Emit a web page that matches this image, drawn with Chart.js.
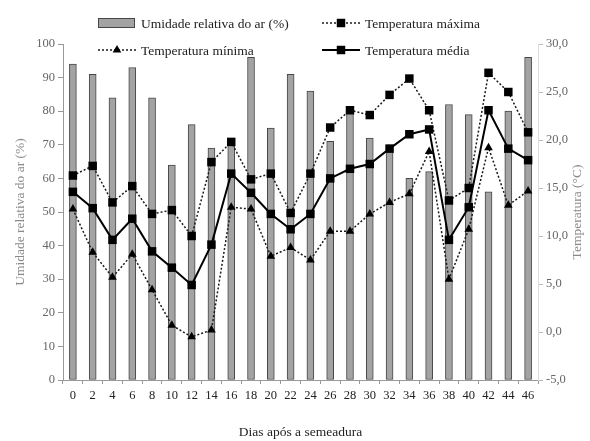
<!DOCTYPE html>
<html>
<head>
<meta charset="utf-8">
<script src="https://cdn.jsdelivr.net/npm/chart.js@4.4.1/dist/chart.umd.min.js"></script>
<style>
    html, body { margin: 0; padding: 0; background: #fff; }
    canvas { display: block; }
</style>
</head>
<body>
<canvas id="chart" width="590" height="441"></canvas>
<script>
// dias após a semeadura
var dias = ["0", "2", "4", "6", "8", "10", "12", "14", "16", "18", "20", "22", "24", "26", "28", "30", "32", "34", "36", "38", "40", "42", "44", "46"];

// umidade relativa do ar (%)
var umidade = [94, 91, 84, 93, 84, 64, 76, 69, 72, 96, 75, 91, 86, 71, 80, 72, 70, 60, 62, 82, 79, 56, 80, 96];

// temperaturas (°C)
var tMaxima = [16.3, 17.3, 13.5, 15.2, 12.3, 12.7, 10.0, 17.7, 19.8, 15.9, 16.5, 12.4, 16.5, 21.3, 23.1, 22.6, 24.7, 26.4, 23.1, 13.7, 15.0, 27.0, 25.0, 20.8];
var tMinima = [12.8, 8.3, 5.7, 8.1, 4.4, 0.7, -0.5, 0.2, 13.0, 12.8, 7.9, 8.8, 7.5, 10.5, 10.5, 12.3, 13.5, 14.4, 18.8, 5.5, 10.7, 19.2, 13.2, 14.7];
var tMedia = [14.6, 12.9, 9.6, 11.8, 8.4, 6.7, 4.9, 9.1, 16.5, 14.5, 12.3, 10.7, 12.3, 16.0, 17.0, 17.5, 19.1, 20.6, 21.1, 9.6, 13.0, 23.1, 19.1, 17.9];

var umidadeTicks = [0, 10, 20, 30, 40, 50, 60, 70, 80, 90, 100];
var tempTicks = [-5, 0, 5, 10, 15, 20, 25, 30];

var serif = "'Liberation Serif', 'DejaVu Serif', serif";

(function () {
    // two-column legend like the original spreadsheet figure
    var manualLegend = {
        id: "manualLegend",
        afterDraw: function (chart) {
            var ctx = chart.ctx;
            var slots = [
                { ds: 0, x: 98, y: 23 },
                { ds: 1, x: 322, y: 23 },
                { ds: 2, x: 98, y: 50 },
                { ds: 3, x: 322, y: 50 },
            ];
            ctx.save();
            ctx.font = "13.5px " + serif;
            ctx.textBaseline = "middle";
            ctx.textAlign = "left";
            slots.forEach(function (s) {
                var ds = chart.data.datasets[s.ds];
                if (ds.type === "bar") {
                    ctx.fillStyle = ds.backgroundColor;
                    ctx.strokeStyle = ds.borderColor;
                    ctx.lineWidth = 1;
                    ctx.fillRect(s.x, s.y - 5, 37, 10);
                    ctx.strokeRect(s.x + 0.5, s.y - 4.5, 36, 9);
                } else {
                    ctx.strokeStyle = ds.borderColor;
                    ctx.lineWidth = ds.borderWidth;
                    ctx.setLineDash(ds.borderDash || []);
                    ctx.beginPath();
                    ctx.moveTo(s.x, s.y);
                    ctx.lineTo(s.x + 38, s.y);
                    ctx.stroke();
                    ctx.setLineDash([]);
                    ctx.fillStyle = ds.pointBackgroundColor;
                    Chart.helpers.drawPoint(ctx, { pointStyle: ds.pointStyle, radius: ds.pointRadius, rotation: 0, borderWidth: 0 }, s.x + 19, s.y);
                }
                ctx.fillStyle = "#222";
                ctx.fillText(ds.label, s.x + 43, s.y + 1);
            });
            ctx.restore();
        },
    };

    // vertical titles, both read bottom to top
    var axisTitles = {
        id: "axisTitles",
        afterDraw: function (chart) {
            var ctx = chart.ctx;
            var area = chart.chartArea;
            var midY = (area.top + area.bottom) / 2;
            ctx.save();
            ctx.font = "13.5px " + serif;
            ctx.fillStyle = "#8a8a8a";
            ctx.textAlign = "center";
            ctx.textBaseline = "middle";
            ctx.translate(20, midY);
            ctx.rotate(-Math.PI / 2);
            ctx.fillText("Umidade relativa do ar (%)", 0, 0);
            ctx.restore();

            ctx.save();
            ctx.font = "13.5px " + serif;
            ctx.fillStyle = "#8a8a8a";
            ctx.textAlign = "center";
            ctx.textBaseline = "middle";
            ctx.translate(577, midY);
            ctx.rotate(-Math.PI / 2);
            ctx.fillText("Temperatura (°C)", 0, 0);
            ctx.restore();
        },
    };

    new Chart(document.getElementById("chart"), {
        type: "bar",
        data: {
            labels: dias,
            datasets: [
                {
                    type: "bar",
                    label: "Umidade relativa do ar (%)",
                    data: umidade,
                    yAxisID: "y",
                    backgroundColor: "#a3a3a3",
                    borderColor: "#474747",
                    borderWidth: 1,
                    borderSkipped: false,
                    barThickness: 7,
                    order: 10,
                },
                {
                    type: "line",
                    label: "Temperatura máxima",
                    data: tMaxima,
                    yAxisID: "y1",
                    borderColor: "#1a1a1a",
                    borderWidth: 1.5,
                    borderDash: [2, 2],
                    pointStyle: "rect",
                    pointRadius: 6,
                    pointBackgroundColor: "#000",
                    pointBorderWidth: 0,
                    tension: 0,
                    order: 3,
                },
                {
                    type: "line",
                    label: "Temperatura mínima",
                    data: tMinima,
                    yAxisID: "y1",
                    borderColor: "#1a1a1a",
                    borderWidth: 1.5,
                    borderDash: [2, 2],
                    pointStyle: "triangle",
                    pointRadius: 5,
                    pointBackgroundColor: "#000",
                    pointBorderWidth: 0,
                    tension: 0,
                    order: 2,
                },
                {
                    type: "line",
                    label: "Temperatura média",
                    data: tMedia,
                    yAxisID: "y1",
                    borderColor: "#000",
                    borderWidth: 2,
                    pointStyle: "rect",
                    pointRadius: 6,
                    pointBackgroundColor: "#000",
                    pointBorderWidth: 0,
                    tension: 0,
                    order: 1,
                },
            ],
        },
        options: {
            responsive: false,
            animation: false,
            layout: { padding: { top: 44, left: 0, right: 0, bottom: 0 } },
            plugins: {
                legend: { display: false },
                tooltip: { enabled: false },
            },
            scales: {
                x: {
                    grid: { display: true, drawOnChartArea: false, drawTicks: true, tickLength: 4, color: "#999", offset: true },
                    border: { color: "#999" },
                    ticks: { font: { family: serif, size: 12.5 }, color: "#222", padding: 4, maxRotation: 0, autoSkip: false },
                    title: { display: true, text: "Dias após a semeadura", font: { family: serif, size: 13.5 }, color: "#222", padding: { top: 6, bottom: 0 } },
                    afterFit: function (scale) {
                        scale.height = 61;
                    },
                },
                y: {
                    position: "left",
                    min: 0,
                    max: 100,
                    grid: { drawOnChartArea: false, drawTicks: true, tickLength: 5, color: "#999" },
                    border: { color: "#999" },
                    afterBuildTicks: function (scale) {
                        scale.ticks = umidadeTicks.map(function (v) { return { value: v }; });
                    },
                    ticks: { font: { family: serif, size: 12.5 }, color: "#666", padding: 3 },
                    afterFit: function (scale) {
                        scale.width = 63;
                    },
                },
                y1: {
                    position: "right",
                    min: -5,
                    max: 30,
                    grid: { drawOnChartArea: false, drawTicks: true, tickLength: 5, color: "#bbb" },
                    border: { color: "#ddd" },
                    afterBuildTicks: function (scale) {
                        scale.ticks = tempTicks.map(function (v) { return { value: v }; });
                    },
                    ticks: {
                        font: { family: serif, size: 12.5 },
                        color: "#666",
                        padding: 3,
                        callback: function (v) {
                            return Number(v).toFixed(1).replace(".", ",");
                        },
                    },
                    afterFit: function (scale) {
                        scale.width = 52;
                    },
                },
            },
        },
        plugins: [manualLegend, axisTitles],
    });
})();
</script>
</body>
</html>
